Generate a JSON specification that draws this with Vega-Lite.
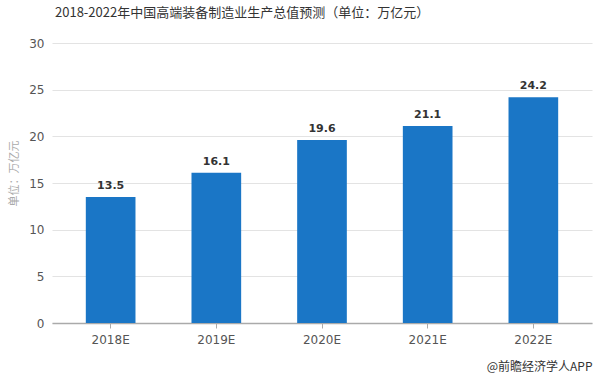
{
  "$schema": "https://vega.github.io/schema/vega-lite/v6.json",
  "autosize": "none",
  "width": 540,
  "height": 280,
  "padding": {"left": 52, "top": 43, "right": 8, "bottom": 56},
  "background": "white",
  "title": {
    "text": "2018-2022年中国高端装备制造业生产总值预测（单位：万亿元）",
    "anchor": "start",
    "frame": "group",
    "dx": 3,
    "offset": 17,
    "font": "Noto Sans CJK SC",
    "fontSize": 13,
    "fontWeight": "normal",
    "color": "#333333"
  },
  "data": {
    "values": [
      {"year": "2018E", "value": 13.5},
      {"year": "2019E", "value": 16.1},
      {"year": "2020E", "value": 19.6},
      {"year": "2021E", "value": 21.1},
      {"year": "2022E", "value": 24.2}
    ]
  },
  "config": {
    "view": {"stroke": null},
    "font": "Noto Sans CJK SC"
  },
  "encoding": {
    "x": {
      "field": "year",
      "type": "nominal",
      "sort": null,
      "scale": {"paddingInner": 0.53, "paddingOuter": 0.32},
      "axis": {
        "title": "@前瞻经济学人APP",
        "titleAnchor": "end",
        "titleAlign": "right",
        "titleFont": "Noto Sans CJK SC",
        "titleFontSize": 12,
        "titleFontWeight": "normal",
        "titleColor": "#333333",
        "titlePadding": 16,
        "labelAngle": 0,
        "labelFont": "DejaVu Sans",
        "labelFontSize": 12,
        "labelColor": "#555555",
        "labelPadding": 6,
        "domainColor": "#aaaaaa",
        "domainWidth": 1.5,
        "tickColor": "#aaaaaa",
        "tickSize": 5,
        "grid": false
      }
    },
    "y": {
      "field": "value",
      "type": "quantitative",
      "scale": {"domain": [0, 30]},
      "axis": {
        "title": "单位：万亿元",
        "titleFont": "Noto Sans CJK SC",
        "titleFontSize": 11,
        "titleFontWeight": "normal",
        "titleColor": "#aaaaaa",
        "titlePadding": 9,
        "titleY": 130,
        "values": [0, 5, 10, 15, 20, 25, 30],
        "labelFont": "DejaVu Sans",
        "labelFontSize": 12,
        "labelColor": "#555555",
        "labelPadding": 8,
        "domain": false,
        "ticks": false,
        "gridColor": "#e3e3e3",
        "gridWidth": 1
      }
    }
  },
  "layer": [
    {"mark": {"type": "bar", "color": "#1a76c6"}},
    {
      "mark": {"type": "text", "dy": -11, "font": "DejaVu Sans", "fontSize": 11, "fontWeight": "bold", "color": "#333333"},
      "encoding": {"text": {"field": "value", "type": "quantitative", "format": ".1f"}}
    }
  ]
}
